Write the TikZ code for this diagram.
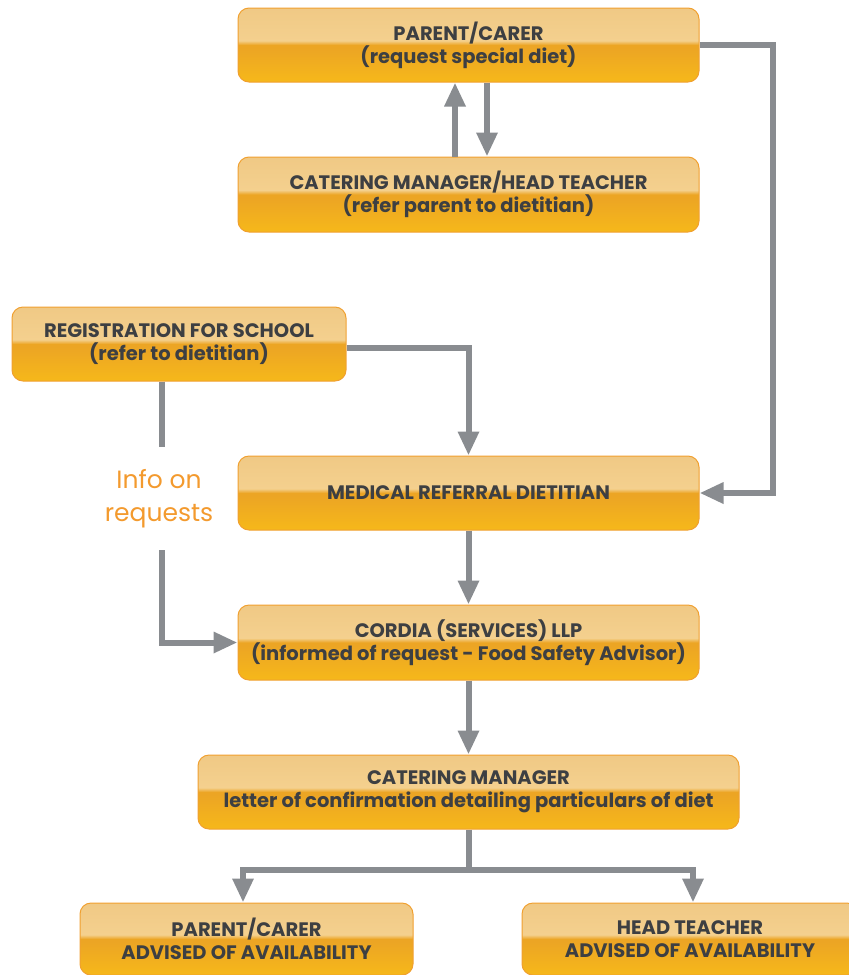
\documentclass[tikz,border=0pt]{standalone}
\usepackage{fontspec}
\setmainfont{Poppins}
\usetikzlibrary{arrows.meta}
\definecolor{cbot}{HTML}{F6B81A}
\definecolor{cdark}{HTML}{ECA524}
\definecolor{chigh}{HTML}{F4D08E}
\definecolor{ctop}{HTML}{F0C985}
\definecolor{boxborder}{HTML}{F0A030}
\definecolor{textgray}{HTML}{3D3F42}
\definecolor{arrowgray}{HTML}{898C90}
\definecolor{infoorange}{HTML}{F39A2E}
\pgfdeclareverticalshading{boxshade}{100bp}{color(0bp)=(cbot); color(25bp)=(cbot); color(48bp)=(cdark); color(50bp)=(cdark); color(53bp)=(chigh); color(75bp)=(ctop); color(100bp)=(ctop)}
\tikzset{
  box/.style={rounded corners=11pt, draw=boxborder, line width=1pt, shading=boxshade,
    align=center, text=textgray, inner sep=0pt,
    font=\fontsize{19.5}{23}\bfseries\selectfont},
  conn/.style={draw=arrowgray, line width=6pt},
  arr/.style={conn, -{Triangle[width=20pt,length=24pt]}},
  info/.style={text=infoorange, align=center, inner sep=0pt,
    font=\fontsize{25}{33}\selectfont}
}
\begin{document}
\begin{tikzpicture}[x=1pt,y=-1pt]
\useasboundingbox (0,0) rectangle (849,975);
\node[box, minimum width=461pt, minimum height=74pt] (parent) at (468.5,45) {PARENT/CARER\\(request special diet)};
\node[box, minimum width=461pt, minimum height=75pt] (cmht) at (468.5,194.5) {CATERING MANAGER/HEAD TEACHER\\(refer parent to dietitian)};
\node[box, minimum width=334pt, minimum height=74pt] (reg) at (179,344) {REGISTRATION FOR SCHOOL\\(refer to dietitian)};
\node[box, minimum width=461pt, minimum height=74pt] (med) at (468.5,493) {MEDICAL REFERRAL DIETITIAN};
\node[box, minimum width=461pt, minimum height=75pt] (cordia) at (468.5,642.5) {CORDIA (SERVICES) LLP\\(informed of request - Food Safety Advisor)};
\node[box, minimum width=541pt, minimum height=74pt] (cm) at (468.5,792) {CATERING MANAGER\\letter of confirmation detailing particulars of diet};
\node[box, minimum width=333pt, minimum height=72pt] (pa) at (246.5,939) {PARENT/CARER\\ADVISED OF AVAILABILITY};
\node[box, minimum width=336pt, minimum height=72pt] (ht) at (690,939) {HEAD TEACHER\\ADVISED OF AVAILABILITY};
\node[info, minimum height=103pt] (infolbl) at (159,498.5) {Info on\\requests};
\coordinate (loopx) at (773,0);
\coordinate (split) at (468.5,870);
\coordinate (lx) at (162,0);
% connectors
\draw[arr] ([xshift=-13.5pt]cmht.north) -- ([xshift=-13.5pt]parent.south);
\draw[arr] ([xshift=18.5pt]parent.south) -- ([xshift=18.5pt]cmht.north);
\draw[arr] (parent.east) -- (parent.east -| loopx) -- (med.east -| loopx) -- (med.east);
\draw[arr] ([yshift=-4pt]reg.east) -| (med.north);
\draw[conn] (reg.south -| lx) -- (infolbl.north -| lx);
\draw[arr] (infolbl.south -| lx) |- (cordia.west);
\draw[arr] (med.south) -- (cordia.north);
\draw[arr] (cordia.south) -- (cm.north);
\draw[conn] (cm.south) -- (split);
\draw[arr] (split) -| ([xshift=-3.5pt]pa.north);
\draw[arr] (split) -| ([xshift=3pt]ht.north);
\end{tikzpicture}
\end{document}
